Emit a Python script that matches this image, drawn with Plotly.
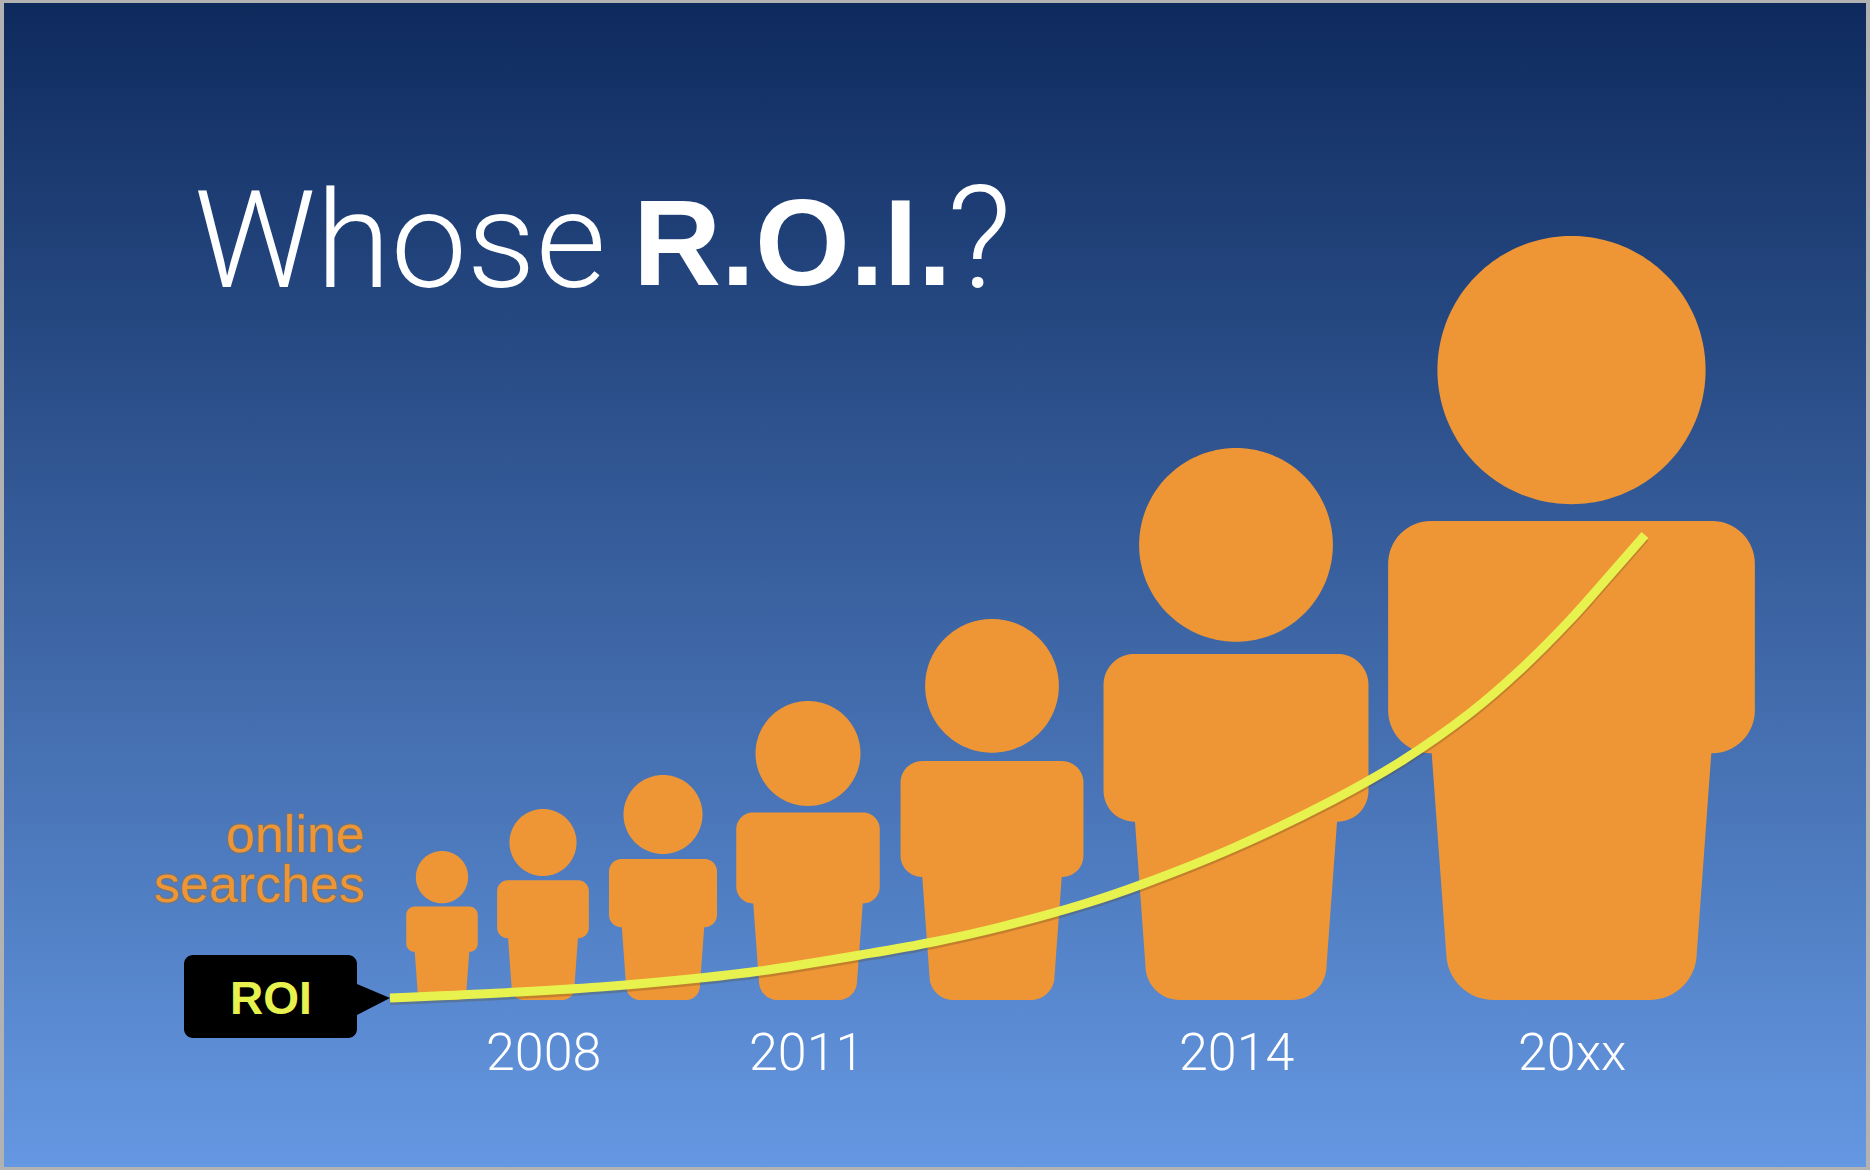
import math
import plotly.graph_objects as go

# --- data (x in picture units, y = height above the baseline of the figures) ---
person_x = [442, 543, 663, 808, 992, 1236, 1571.5]
online_searches = [149, 191, 225, 299, 381, 552, 764]
year_labels = ["2008", "2011", "2014", "20xx"]
year_x = [543, 806, 1236, 1572]
roi_x = [390, 500, 600, 700, 760, 860, 933, 1000, 1087, 1140, 1233, 1333, 1400, 1470, 1520, 1570, 1603, 1645]
roi_y = [2, 7, 13, 22, 29, 45, 58, 73, 97, 115, 152, 200, 238, 287, 330, 380, 417, 465]

ORANGE = "#ee9636"
YELLOW = "#e8f24e"
LIGHT_FONT = "Roboto"
TEXT_FONT = "Liberation Sans"


def arc(cx, cy, r, a0, a1, n=16):
    return [(cx + r * math.cos(math.radians(a0 + (a1 - a0) * i / n)),
             cy + r * math.sin(math.radians(a0 + (a1 - a0) * i / n))) for i in range(n + 1)]


def body_path(cx, h):
    sw, lw, fw = 0.24 * h, 0.183 * h, 0.164 * h
    top, arm = 0.627 * h, 0.323 * h
    r = 0.056 * h
    f = 0.062 * h
    pts = []
    pts += arc(cx - fw + f, f, f, 270, 180)
    pts += [(cx - lw, arm)]
    pts += arc(cx - sw + r, arm + r, r, 270, 180)
    pts += arc(cx - sw + r, top - r, r, 180, 90)
    pts += arc(cx + sw - r, top - r, r, 90, 0)
    pts += arc(cx + sw - r, arm + r, r, 0, -90)
    pts += [(cx + lw, arm)]
    pts += arc(cx + fw - f, f, f, 0, -90)
    return [p[0] for p in pts] + [pts[0][0]], [p[1] for p in pts] + [pts[0][1]]


def head_path(cx, h):
    d = 0.351 * h
    pts = arc(cx, h - d / 2, d / 2, 0, 360, 180)
    return [p[0] for p in pts], [p[1] for p in pts]


fig = go.Figure()
fig.add_trace(go.Scatter(
    x=[4, 1866, 1866, 4, 4], y=[997, 997, -167, -167, 997], mode="lines", line=dict(width=0),
    fill="toself", hoverinfo="skip", showlegend=False,
    fillgradient=dict(type="vertical", colorscale=[[0, "#6598e2"], [1, "#0e2a5d"]],
                      start=-167, stop=997)))

for x, v in zip(person_x, online_searches):
    for path in (body_path(x, v), head_path(x, v)):
        fig.add_trace(go.Scatter(x=path[0], y=path[1], mode="lines", line=dict(width=0, simplify=False),
                                 fill="toself", fillcolor=ORANGE, hoverinfo="skip", showlegend=False))

# ROI callout
bx0, bx1, by0, by1, rr = 184, 357, -38, 45, 9
box = arc(bx0 + rr, by1 - rr, rr, 180, 90) + arc(bx1 - rr, by1 - rr, rr, 90, 0)
box += [(bx1, 16), (roi_x[0], roi_y[0]), (bx1, -15)]
box += arc(bx1 - rr, by0 + rr, rr, 0, -90) + arc(bx0 + rr, by0 + rr, rr, 270, 180)
fig.add_trace(go.Scatter(x=[p[0] for p in box] + [box[0][0]], y=[p[1] for p in box] + [box[0][1]],
                         mode="lines", line=dict(width=0, simplify=False), fill="toself", fillcolor="#000000",
                         hoverinfo="skip", showlegend=False))

# ROI curve with soft shadow
fig.add_trace(go.Scatter(x=roi_x, y=[v - 2.5 for v in roi_y], mode="lines",
                         line=dict(color="rgba(90,70,20,0.28)", width=9, shape="spline", smoothing=1, simplify=False),
                         hoverinfo="skip", showlegend=False))
fig.add_trace(go.Scatter(x=roi_x, y=roi_y, mode="lines",
                         line=dict(color=YELLOW, width=9, shape="spline", smoothing=1, simplify=False),
                         hoverinfo="skip", showlegend=False))

OUTLINE = "0.7px 0.7px 1px #777, -0.7px -0.7px 1px #777, 0.7px -0.7px 1px #777, -0.7px 0.7px 1px #777"
ann = [
    dict(x=192, y=760, xanchor="left", yanchor="middle", showarrow=False, text="Whose",
         font=dict(family=LIGHT_FONT, size=136, color="white", weight=300)),
    dict(x=631, y=757, xanchor="left", yanchor="middle", showarrow=False, text="<b>R.O.I.</b>",
         font=dict(family=TEXT_FONT, size=122, color="white")),
    dict(x=979, y=762, xanchor="center", yanchor="middle", showarrow=False, text="?",
         font=dict(family=LIGHT_FONT, size=142, color="white", weight=300)),
    dict(x=367, y=166, xanchor="right", yanchor="middle", showarrow=False, text="online", height=50,
         font=dict(family=TEXT_FONT, size=52, color=ORANGE, shadow=OUTLINE)),
    dict(x=367, y=116, xanchor="right", yanchor="middle", showarrow=False, text="searches", height=50,
         font=dict(family=TEXT_FONT, size=52, color=ORANGE, shadow=OUTLINE)),
    dict(x=271, y=2, xanchor="center", yanchor="middle", showarrow=False, text="<b>ROI</b>",
         font=dict(family=TEXT_FONT, size=46, color=YELLOW)),
]
for lab, x in zip(year_labels, year_x):
    ann.append(dict(x=x, y=-52, xanchor="center", yanchor="middle", showarrow=False, text=lab,
                    font=dict(family=LIGHT_FONT, size=52, color="white", weight=300)))

fig.update_layout(
    width=1870, height=1170, margin=dict(l=0, r=0, t=0, b=0),
    paper_bgcolor="#b2b2b2", plot_bgcolor="rgba(0,0,0,0)", showlegend=False,
    xaxis=dict(range=[0, 1870], visible=False, fixedrange=True),
    yaxis=dict(range=[-170, 1000], visible=False, fixedrange=True),
    annotations=ann)

fig.write_html("out.html", config=dict(displayModeBar=False),
               post_script="document.body.style.margin='0';document.body.style.overflow='hidden';")
